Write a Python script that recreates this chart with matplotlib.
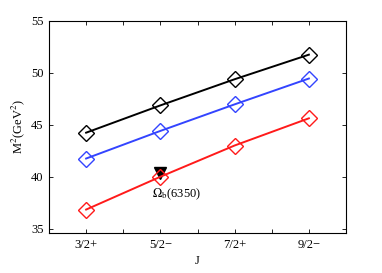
import matplotlib
matplotlib.use("Agg")
import matplotlib.pyplot as plt

plt.rcParams['font.family'] = ['Liberation Serif', 'DejaVu Serif']
plt.rcParams['mathtext.fontset'] = 'stix'

x = [1, 2, 3, 4]
tick_labels = ['3/2+', '5/2\u2212', '7/2+', '9/2\u2212']
black_vals = [44.23, 46.85, 49.36, 51.72]
blue_vals = [41.75, 44.40, 46.95, 49.43]
red_vals = [36.85, 40.00, 43.00, 45.61]
exp_x = [2]
exp_y = [40.4]
exp_label = r'$\Omega_{\rm b}$(6350)'

fig = plt.figure(figsize=(3.82, 2.73), dpi=100)
ax = fig.add_axes([49/382, 1-233/273, (346-49)/382, (233-20.5)/273])

ax.plot(exp_x, exp_y, 'v', color='black', markersize=8, zorder=1)

for vals, c in [(black_vals, 'black'), (blue_vals, '#3344ff'), (red_vals, '#ff1a1a')]:
    ax.plot(x, vals, '-', color=c, lw=1.4, marker='D', markersize=8,
            markerfacecolor='none', markeredgecolor=c, markeredgewidth=1.0, zorder=2)

ax.text(1.89, 39.05, exp_label, fontsize=9, ha='left', va='top')

ax.set_xlim(0.5, 4.5)
ax.set_ylim(34.6, 55)
ax.set_xticks([1, 1.5, 2, 2.5, 3, 3.5, 4])
ax.set_xticklabels([tick_labels[0], '', tick_labels[1], '', tick_labels[2], '', tick_labels[3]])
ax.set_yticks([35, 40, 45, 50, 55])
ax.tick_params(direction='in', top=True, right=True, labelsize=9, length=3, width=0.6, pad=4)
for s in ax.spines.values():
    s.set_linewidth(0.8)
ax.set_xlabel('J', fontsize=9, labelpad=3)
ax.set_ylabel(r'M$^2$(GeV$^2$)', fontsize=9, labelpad=3)

fig.savefig('out.png', dpi=100)
